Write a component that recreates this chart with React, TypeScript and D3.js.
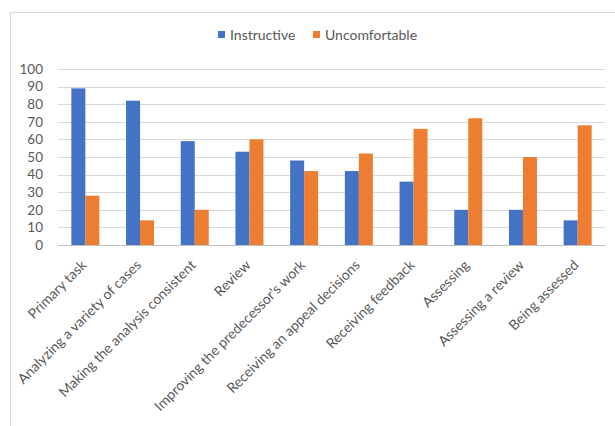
import React from 'react'
import * as d3 from 'd3'

const categories = [
    'Primary task',
    'Analyzing a variety of cases',
    'Making the analysis consistent',
    'Review',
    "Improving the predecessor's work",
    'Receiving an appeal decisions',
    'Receiving feedback',
    'Assessing',
    'Assessing a review',
    'Being assessed',
]
const instructive = [89, 82, 59, 53, 48, 42, 36, 20, 20, 14]
const uncomfortable = [28, 14, 20, 60, 42, 52, 66, 72, 50, 68]
const seriesNames = ['Instructive', 'Uncomfortable']
const yTicks = [0, 10, 20, 30, 40, 50, 60, 70, 80, 90, 100]

const colors = ['#4472C4', '#ED7D31']
const textColor = '#595959'
const font = 'Lato, "Open Sans", sans-serif'

const width = 615
const height = 426
const plot = { left: 58, right: 605, top: 69, bottom: 245 }

/** Grouped column chart, Excel look */
const App = () => {
    const x = d3.scaleBand<string>().domain(categories).range([plot.left, plot.right])
    const y = d3.scaleLinear().domain([0, 100]).range([plot.bottom, plot.top])
    const barWidth = 14
    const series = [instructive, uncomfortable]

    return (
        <svg
            width={width}
            height={height}
            style={{ position: 'absolute', left: 0, top: 0, fontFamily: font }}
        >
            <rect x={0} y={0} width={width} height={height} fill='#fff' />
            {/* chart frame */}
            <rect x={10.5} y={12.5} width={640} height={440} fill='none' stroke='#d9d9d9' />

            {/* legend */}
            {seriesNames.map((name, i) => {
                const lx = i === 0 ? 218 : 313
                return (
                    <g key={name} transform={`translate(${lx}, 35)`}>
                        <rect x={0} y={-4} width={7} height={7} fill={colors[i]} />
                        <text x={12} dy='0.35em' fontSize={14} fill={textColor}>{name}</text>
                    </g>
                )
            })}

            {/* gridlines and y ticks */}
            {yTicks.map((t) => (
                <g key={t}>
                    <line
                        x1={plot.left}
                        x2={plot.right}
                        y1={Math.round(y(t)) + 0.5}
                        y2={Math.round(y(t)) + 0.5}
                        stroke={t === 0 ? '#bfbfbf' : '#d9d9d9'}
                    />
                    <text
                        x={43}
                        y={y(t)}
                        dy='0.35em'
                        textAnchor='end'
                        fontSize={13.5}
                        fill={textColor}
                    >
                        {t}
                    </text>
                </g>
            ))}

            {/* bars */}
            {series.map((values, s) => (
                <g key={s}>
                    {values.map((v, i) => {
                        const cx = (x(categories[i]) as number) + x.bandwidth() / 2
                        return (
                            <rect
                                key={i}
                                x={cx - barWidth + s * barWidth}
                                y={y(v)}
                                width={barWidth}
                                height={y(0) - y(v)}
                                fill={colors[s]}
                            />
                        )
                    })}
                </g>
            ))}

            {/* category labels */}
            {categories.map((c) => {
                const cx = (x(c) as number) + x.bandwidth() / 2
                return (
                    <text
                        key={c}
                        transform={`translate(${cx + 2}, 266) rotate(-45)`}
                        textAnchor='end'
                        fontSize={14}
                        fill={textColor}
                    >
                        {c}
                    </text>
                )
            })}
        </svg>
    )
}

export default App
